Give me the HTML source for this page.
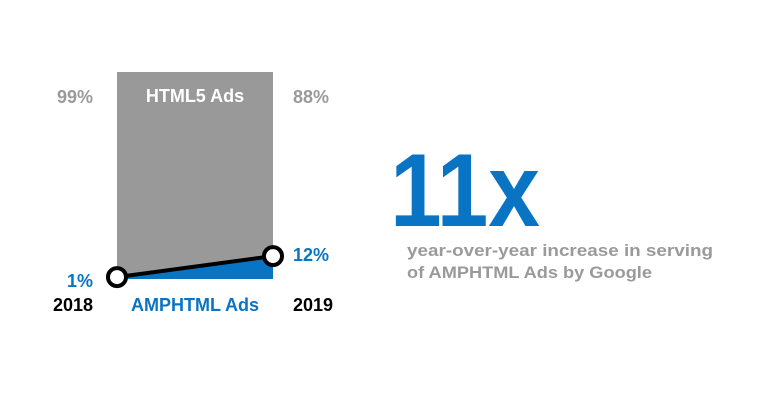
<!DOCTYPE html>
<html><head><meta charset="utf-8"><style>
html,body{margin:0;padding:0;background:#fff;}
svg{display:block;font-family:"Liberation Sans",sans-serif;font-weight:bold;}
</style></head><body>
<svg width="760" height="400" viewBox="0 0 760 400">
<g id="chart"></g>
<text x="390" y="226" font-size="104" fill="#0a74c4" textLength="150" lengthAdjust="spacingAndGlyphs">11x</text>
<text x="407" y="256" font-size="17" fill="#9a9a9a" textLength="306" lengthAdjust="spacingAndGlyphs">year-over-year increase in serving</text>
<text x="407" y="278" font-size="17" fill="#9a9a9a" textLength="245" lengthAdjust="spacingAndGlyphs">of AMPHTML Ads by Google</text>
</svg>
<script>
const years = ["2018", "2019"];
const amphtmlValues = [1, 12];
const html5Values = [99, 88];
const ns = "http://www.w3.org/2000/svg";
const g = document.getElementById("chart");
const x0 = 117, x1 = 273, yBase = 279, yTop = 72;
function xScale(i){ return x0 + i*(x1-x0)/(years.length-1); }
function yScale(v){ return yBase - v*1.91; }
function mk(tag, attrs, text){
  const e = document.createElementNS(ns, tag);
  for (const k in attrs) e.setAttribute(k, attrs[k]);
  if (text !== undefined) e.textContent = text;
  g.appendChild(e);
  return e;
}
let r = mk("rect", {x:x0, y:yTop, width:x1-x0, height:yBase-yTop, fill:"#999999"});


let pts = amphtmlValues.map((v,i)=>xScale(i)+","+yScale(v)).join(" ");
let area = mk("polygon", {points: pts+" "+x1+","+yBase+" "+x0+","+yBase, fill:"#0a74c4"});


let line = mk("polyline", {points: pts, fill:"none", stroke:"#000", "stroke-width":4});


amphtmlValues.forEach((v,i)=>{
  let c = mk("circle", {cx:xScale(i), cy:yScale(v), r:9, fill:"#fff", stroke:"#000", "stroke-width":4});
  
  
});
let t;
t = mk("text", {x:195, y:102, "font-size":18, fill:"#fff", "text-anchor":"middle"}, "HTML5 Ads");


t = mk("text", {x:93, y:103, "font-size":18, fill:"#9a9a9a", "text-anchor":"end"}, html5Values[0]+"%");


t = mk("text", {x:293, y:103, "font-size":18, fill:"#9a9a9a"}, html5Values[1]+"%");


t = mk("text", {x:93, y:yScale(amphtmlValues[0])+10, "font-size":18, fill:"#0a74c4", "text-anchor":"end"}, amphtmlValues[0]+"%");


t = mk("text", {x:293, y:yScale(amphtmlValues[1])+5, "font-size":18, fill:"#0a74c4"}, amphtmlValues[1]+"%");


t = mk("text", {x:93, y:311, "font-size":18, fill:"#000", "text-anchor":"end"}, years[0]);


t = mk("text", {x:293, y:311, "font-size":18, fill:"#000"}, years[1]);


t = mk("text", {x:195, y:311, "font-size":18, fill:"#0a74c4", "text-anchor":"middle"}, "AMPHTML Ads");


</script>
</body></html>
